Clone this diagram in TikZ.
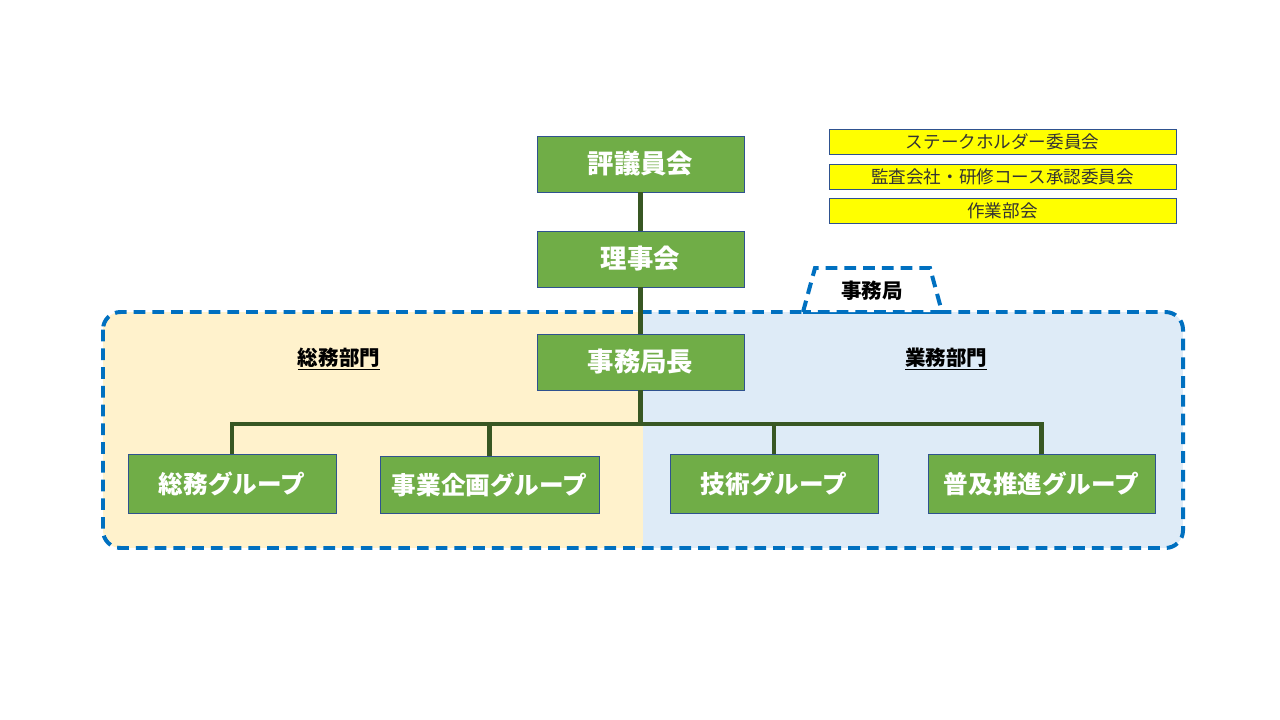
\documentclass[tikz,border=0pt]{standalone}
\usepackage{fontspec}
\setmainfont{Noto Sans CJK JP}
\usepackage{tikz}

\definecolor{boxgreen}{HTML}{70AD47}
\definecolor{boxedge}{HTML}{2F528F}
\definecolor{linegreen}{HTML}{385723}
\definecolor{dashblue}{HTML}{0070C0}
\definecolor{leftfill}{HTML}{FFF2CC}
\definecolor{rightfill}{HTML}{DEEBF7}
\definecolor{memo}{HTML}{FFFF00}

\begin{document}
\begin{tikzpicture}[x=0.3mm,y=-0.3mm,
	greenbox/.style={draw=boxedge,line width=0.8pt,fill=boxgreen,text=white,font=\fontsize{21}{24}\selectfont\bfseries,inner sep=0pt,minimum height=16.8mm},
	memobox/.style={draw=boxedge,line width=0.8pt,fill=memo,text=black!80,font=\fontsize{15}{17}\selectfont,inner sep=0pt,minimum width=104.1mm,minimum height=7.6mm},
	bluedash/.style={draw=dashblue,line width=3.4pt,dash pattern=on 10pt off 6pt},
	wire/.style={draw=linegreen,line width=3.6pt}]

\useasboundingbox (0,0) rectangle (1280,720);

%Office area
\begin{scope}
	\clip[rounded corners=15] (103,312) rectangle (1183,548);
	\fill[leftfill] (103,312) rectangle (643,548);
	\fill[rightfill] (643,312) rectangle (1183,548);
\end{scope}
\path[bluedash,rounded corners=15] (103,312) rectangle (1183,548);
\path[bluedash,fill=white] (803,312) -- (815,268) -- (930,268) -- (942,312) -- cycle;

\begin{scope}[every node/.style={font=\fontsize{17.5}{20}\selectfont\bfseries,text=black}]
	\node (office) at (872,291) {事務局};
	\node (div_l) at (339,359) {\underline{総務部門}};
	\node (div_r) at (946,359) {\underline{業務部門}};
\end{scope}

\begin{scope}[every node/.style={greenbox}]
	%Top
	\node[minimum width=62.1mm,font=\fontsize{22.5}{25}\selectfont\bfseries] (council) at (640.5,164) {評議員会};
	\node[minimum width=62.1mm,font=\fontsize{22.5}{25}\selectfont\bfseries] (board) at (640.5,259) {理事会};
	\node[minimum width=62.1mm,font=\fontsize{22.5}{25}\selectfont\bfseries] (chief) at (640.5,362) {事務局長};

	%Groups
	\node[minimum width=62.4mm,minimum height=17.7mm] (G_1) at (232,483.5) {総務グループ};
	\node[minimum width=65.7mm,minimum height=17.1mm] (G_2) at (489.5,484.5) {事業企画グループ};
	\node[minimum width=62.4mm,minimum height=17.7mm] (G_3) at (774,483.5) {技術グループ};
	\node[minimum width=68.1mm,minimum height=17.7mm] (G_4) at (1041.5,483.5) {普及推進グループ};
\end{scope}

\begin{scope}[every node/.style={memobox}]
	\node (M_1) at (1002.5,142) {ステークホルダー委員会};
	\node (M_2) at (1002.5,177) {監査会社・研修コース承認委員会};
	\node (M_3) at (1002.5,211) {作業部会};
\end{scope}

\coordinate (bus) at (640.5,424);

\begin{scope}[every path/.style={wire}]
	\path (council) edge (board);
	\path (board) edge (chief);
	\path (chief) edge (bus);

	\draw (G_1) |- (bus);
	\draw (G_2) |- (bus);
	\draw (G_3) |- (bus);
	\draw (G_4) |- (bus);
\end{scope}
\end{tikzpicture}
\end{document}
